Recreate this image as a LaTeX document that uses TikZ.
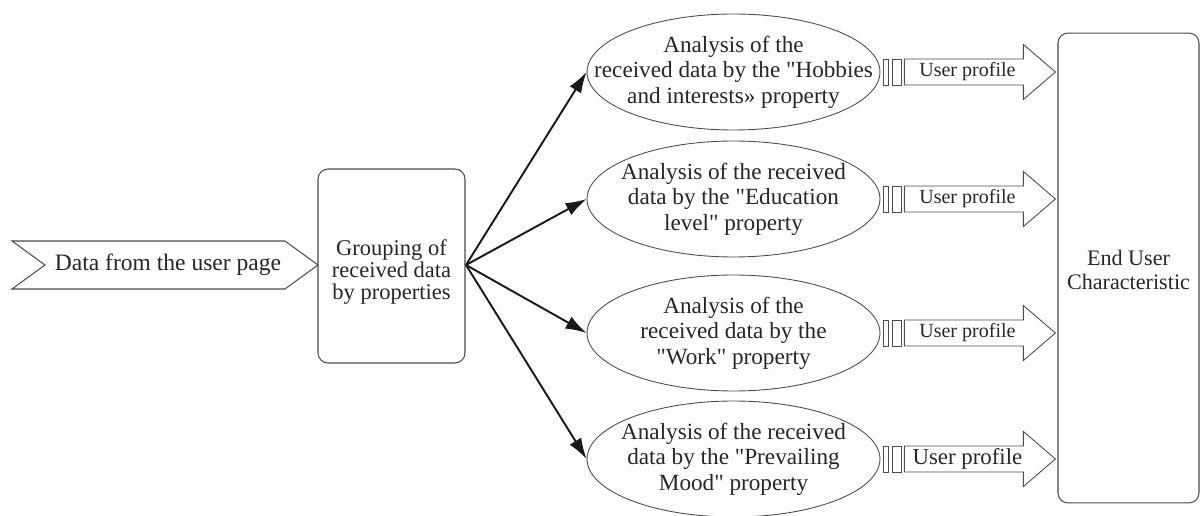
\documentclass[tikz,border=0pt]{standalone}
\usepackage{fontspec}
\setmainfont{Liberation Serif}
\usepackage{tikz}
\usetikzlibrary{calc, positioning, shapes.geometric, arrows.meta}

\tikzset{
  txt/.style={align=center, text=black!85, font=\fontsize{13.2}{14.6}\selectfont},
  stepbox/.style={draw=black!70, line width=0.6pt, rounded corners=0.2cm, inner sep=0pt},
  analysis/.style={ellipse, draw=black!70, line width=0.5pt, inner sep=0pt,
    minimum width=5.86cm, minimum height=2.32cm},
  flow/.style={->, line width=1.1pt, black!90},
  profile/.style={draw=black!70, line width=0.5pt, fill=white},
}
\newcommand{\qt}{\textquotedbl}

\begin{document}
\begin{tikzpicture}[x=0.02cm, y=-0.02cm, >={Latex[length=0.42cm, width=0.27cm]}]
  \useasboundingbox (0,0) rectangle (1201,516);

  % input
  \draw [profile, line width=0.6pt] (12,241) -- (285,241) -- (318,265) -- (285,289)
    -- (12,289) -- (45,265) -- cycle;
  \node [txt, font=\fontsize{13.4}{14}\selectfont] (input) at (168,265) {Data from the user page};

  % grouping
  \node [stepbox, minimum width=2.94cm, minimum height=3.88cm] (group) at (391.5,266) {};
  \node [txt, font=\fontsize{12.8}{12.4}\selectfont] (grouptxt) at (391.5,272)
    {Grouping of\\received data\\by properties};

  % analysis
  \node [analysis] (an1) at (733.5,72) {};
  \node [analysis] (an2) at (733.5,199) {};
  \node [analysis] (an3) at (733.5,333) {};
  \node [analysis] (an4) at (733.5,459) {};
  \node [txt] (an1txt) at (an1) {Analysis of the\\received data by the \qt Hobbies\\and interests» property};
  \node [txt] (an2txt) at (an2) {Analysis of the received\\data by the \qt Education\\level\qt{} property};
  \node [txt] (an3txt) at (an3) {Analysis of the\\received data by the\\\qt Work\qt{} property};
  \node [txt] (an4txt) at (an4) {Analysis of the received\\data by the \qt Prevailing\\Mood\qt{} property};

  \foreach \i in {1,...,4}
    \draw [flow] (466,265) -- (an\i.west);

  % result
  \node [stepbox, minimum width=2.82cm, minimum height=9.4cm] (enduser) at (1128.5,268) {};
  \node [txt, font=\fontsize{12.6}{14}\selectfont] (endtxt) at (1128.5,270) {End User\\Characteristic};

  % user profile arrows
  \foreach \i in {1,...,4} {
    \draw [profile] ($(an\i.east)+(3,-13)$) rectangle ($(an\i.east)+(8,13)$);
    \draw [profile] ($(an\i.east)+(12,-13)$) rectangle ($(an\i.east)+(21,13)$);
    \draw [profile] ($(an\i.east)+(24,-13)$) -- ($(an\i.east)+(143,-13)$)
      -- ($(an\i.east)+(143,-27.5)$) -- ($(an\i.east)+(175,0)$)
      -- ($(an\i.east)+(143,27.5)$) -- ($(an\i.east)+(143,13)$)
      -- ($(an\i.east)+(24,13)$) -- cycle;
  }
  \node [txt, font=\fontsize{11.4}{12}\selectfont] (up1) at ($(an1.east)+(87,0)$) {User profile};
  \node [txt, font=\fontsize{11.4}{12}\selectfont] (up2) at ($(an2.east)+(87,0)$) {User profile};
  \node [txt, font=\fontsize{11.4}{12}\selectfont] (up3) at ($(an3.east)+(87,0)$) {User profile};
  \node [txt, font=\fontsize{13}{13}\selectfont] (up4) at ($(an4.east)+(87,0)$) {User profile};
\end{tikzpicture}
\end{document}
